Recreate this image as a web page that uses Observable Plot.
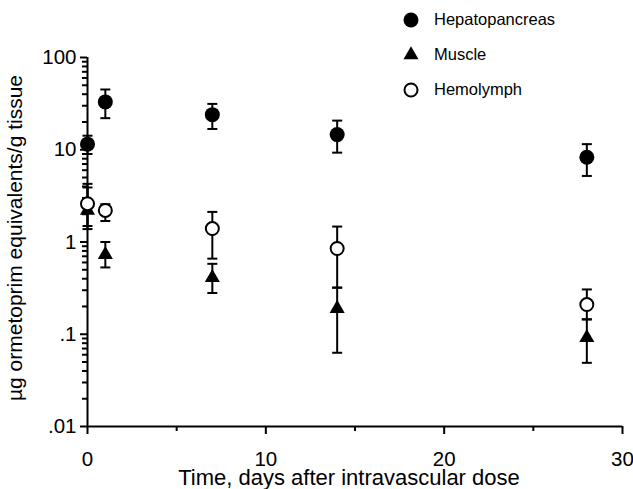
<!DOCTYPE html>
<html>
<head>
<meta charset="utf-8">
<script src="https://cdn.jsdelivr.net/npm/d3@7"></script>
<script src="https://cdn.jsdelivr.net/npm/@observablehq/plot@0.6"></script>
<style>
  html, body { margin: 0; padding: 0; background: #fff; }
  #chart { position: relative; width: 633px; height: 489px; font-family: "Liberation Sans", Arial, sans-serif; }
  #legend { position: absolute; left: 400px; top: 2px; font-size: 16.5px; color: #000; }
  #legend .row { display: flex; align-items: center; height: 35px; }
  #legend svg { width: 22px; height: 22px; margin-right: 12px; }
</style>
</head>
<body>
<div id="chart"><div id="legend"></div></div>
<script>
// Sampling times (days after intravascular dose)
const days = [0, 1, 7, 14, 28];

// Concentrations (µg ormetoprim equivalents / g tissue), with error-bar limits
const hepatopancreas   = [11.5, 33, 24, 14.6, 8.3];
const hepatopancreasLo = [9.0, 22, 16.8, 9.3, 5.2];
const hepatopancreasHi = [14.2, 45, 31.4, 20.7, 11.5];

const muscle   = [2.2, 0.73, 0.41, 0.19, 0.092];
const muscleLo = [1.38, 0.53, 0.28, 0.063, 0.049];
const muscleHi = [3.9, 1.0, 0.58, 0.32, 0.145];

const hemolymph   = [2.6, 2.2, 1.4, 0.85, 0.21];
const hemolymphLo = [1.49, 1.69, 0.66, 0.32, 0.145];
const hemolymphHi = [4.27, 2.57, 2.12, 1.47, 0.306];

const seriesNames = ["Hepatopancreas", "Muscle", "Hemolymph"];

// Axis ticks and titles
const xTicks = [0, 10, 20, 30];
const xMinorTicks = [5, 15, 25];
const yTicks = [0.01, 0.1, 1, 10, 100];
const yTickLabels = [".01", ".1", "1", "10", "100"];
const yMinorTicks = [
  0.02, 0.03, 0.04, 0.05, 0.06, 0.07, 0.08, 0.09,
  0.2, 0.3, 0.4, 0.5, 0.6, 0.7, 0.8, 0.9,
  2, 3, 4, 5, 6, 7, 8, 9,
  20, 30, 40, 50, 60, 70, 80, 90
];
const xTitle = "Time, days after intravascular dose";
const yTitle = "µg ormetoprim equivalents/g tissue";

function rows(name, v, lo, hi) {
  return days.map((day, i) => ({series: name, day, value: v[i], lo: lo[i], hi: hi[i]}));
}
const hepRows = rows(seriesNames[0], hepatopancreas, hepatopancreasLo, hepatopancreasHi);
const musRows = rows(seriesNames[1], muscle, muscleLo, muscleHi);
const hemRows = rows(seriesNames[2], hemolymph, hemolymphLo, hemolymphHi);
const all = [...hepRows, ...musRows, ...hemRows];
const caps = all.flatMap(d => [{day: d.day, y: d.lo}, {day: d.day, y: d.hi}]);

// Short horizontal bar used as the error-bar cap
const capSymbol = {
  draw(context) { context.moveTo(-5, 0); context.lineTo(5, 0); }
};

const chart = Plot.plot({
  width: 633,
  height: 489,
  marginLeft: 87,
  marginRight: 11,
  marginTop: 57,
  marginBottom: 63,
  style: {fontFamily: "'Liberation Sans', Arial, sans-serif", fontSize: "20.5px", color: "#000", background: "#fff"},
  x: {domain: [0, 30]},
  y: {type: "log", domain: [0.01, 100]},
  marks: [
    Plot.axisX(xTicks, {tickSize: 8, tickPadding: 17, strokeWidth: 2, label: null}),
    Plot.axisX(xMinorTicks, {tickSize: 5, strokeWidth: 2, tickFormat: () => "", label: null}),
    Plot.axisY(yTicks, {tickSize: 7, tickPadding: 4, strokeWidth: 2,
      tickFormat: d => yTickLabels[yTicks.indexOf(d)], label: null}),
    // minor log ticks, pointing out to the left of the y axis
    Plot.axisY(yMinorTicks, {tickSize: 5, strokeWidth: 2, tickFormat: () => "", label: null}),
    Plot.ruleX([0], {strokeWidth: 2}),
    Plot.ruleY([0.01], {strokeWidth: 2}),
    // axis titles
    Plot.text([xTitle], {text: d => d, frameAnchor: "bottom", dx: -6, dy: 51, lineAnchor: "middle", fontSize: 22}),
    Plot.text([yTitle], {text: d => d, frameAnchor: "left", dx: -72, dy: -4, rotate: -90,
      textAnchor: "middle", lineAnchor: "middle", fontSize: 21}),
    // error bars
    Plot.ruleX(all, {x: "day", y1: "lo", y2: "hi", stroke: "#000", strokeWidth: 2}),
    Plot.dot(caps, {x: "day", y: "y", symbol: capSymbol, stroke: "#000", strokeWidth: 2}),
    // points
    Plot.dot(hepRows, {x: "day", y: "value", r: 7.5, fill: "#000"}),
    Plot.dot(musRows, {x: "day", y: "value", r: 5.6, symbol: "triangle", fill: "#000"}),
    Plot.dot(hemRows, {x: "day", y: "value", r: 6.5, fill: "#fff", stroke: "#000", strokeWidth: 2})
  ]
});
document.getElementById("chart").prepend(chart);

// Legend
const legend = d3.select("#legend");
const legendSymbols = [
  {symbol: d3.symbolCircle, size: Math.PI * 7.5 * 7.5, fill: "#000", stroke: "none"},
  {symbol: d3.symbolTriangle, size: Math.PI * 5.6 * 5.6, fill: "#000", stroke: "none"},
  {symbol: d3.symbolCircle, size: Math.PI * 6.5 * 6.5, fill: "#fff", stroke: "#000"}
];
seriesNames.forEach((name, i) => {
  const row = legend.append("div").attr("class", "row");
  const s = legendSymbols[i];
  row.append("svg").attr("viewBox", "-11 -11 22 22")
    .append("path").attr("d", d3.symbol(s.symbol, s.size)())
    .attr("fill", s.fill).attr("stroke", s.stroke).attr("stroke-width", 2);
  row.append("span").text(name);
});
</script>
</body>
</html>
